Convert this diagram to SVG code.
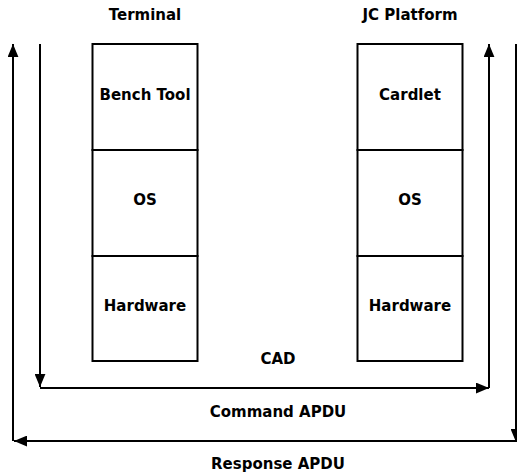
<svg xmlns="http://www.w3.org/2000/svg" width="517" height="472" viewBox="0 0 517 472">
  <style>
    .lbl { font-family: "DejaVu Sans", "Liberation Sans", sans-serif; font-weight: bold; font-size: 15px; fill: #000; text-anchor: middle; }
    .box { fill: #fff; stroke: #000; stroke-width: 2; }
    .wire { fill: none; stroke: #000; stroke-width: 2; }
  </style>
  <defs>
    <marker id="head" viewBox="0 0 12 10" refX="12" refY="5" markerWidth="13" markerHeight="11" orient="auto" markerUnits="userSpaceOnUse">
      <path d="M0,0 L12,5 L0,10 Z" fill="#000"/>
    </marker>
  </defs>
  <rect width="517" height="472" fill="#fff"/>

  <text class="lbl" x="145" y="20">Terminal</text>
  <text class="lbl" x="410" y="20">JC Platform</text>

  <g id="terminal-bench">
    <rect class="box" x="92.5" y="44" width="105" height="106"/>
    <text class="lbl" x="145" y="100">Bench Tool</text>
  </g>
  <g id="terminal-os">
    <rect class="box" x="92.5" y="150" width="105" height="106"/>
    <text class="lbl" x="145" y="205">OS</text>
  </g>
  <g id="terminal-hw">
    <rect class="box" x="92.5" y="256" width="105" height="105"/>
    <text class="lbl" x="145" y="311">Hardware</text>
  </g>

  <g id="jc-cardlet">
    <rect class="box" x="357.5" y="44" width="105" height="106"/>
    <text class="lbl" x="410" y="100">Cardlet</text>
  </g>
  <g id="jc-os">
    <rect class="box" x="357.5" y="150" width="105" height="106"/>
    <text class="lbl" x="410" y="205">OS</text>
  </g>
  <g id="jc-hw">
    <rect class="box" x="357.5" y="256" width="105" height="105"/>
    <text class="lbl" x="410" y="311">Hardware</text>
  </g>

  <text class="lbl" x="278" y="364">CAD</text>
  <text class="lbl" x="278" y="417">Command APDU</text>
  <text class="lbl" x="278" y="469">Response APDU</text>

  <g id="connectors">
    <!-- command path: down, across, up -->
    <path class="wire" d="M40,44 V387" marker-end="url(#head)"/>
    <path class="wire" d="M40,388 H489" marker-end="url(#head)"/>
    <path class="wire" d="M489,388 V44" marker-end="url(#head)"/>
    <!-- response path: down, back, up -->
    <path class="wire" d="M516,44 V442" marker-end="url(#head)"/>
    <path class="wire" d="M516,441 H14" marker-end="url(#head)"/>
    <path class="wire" d="M13,441 V44" marker-end="url(#head)"/>
  </g>
</svg>
